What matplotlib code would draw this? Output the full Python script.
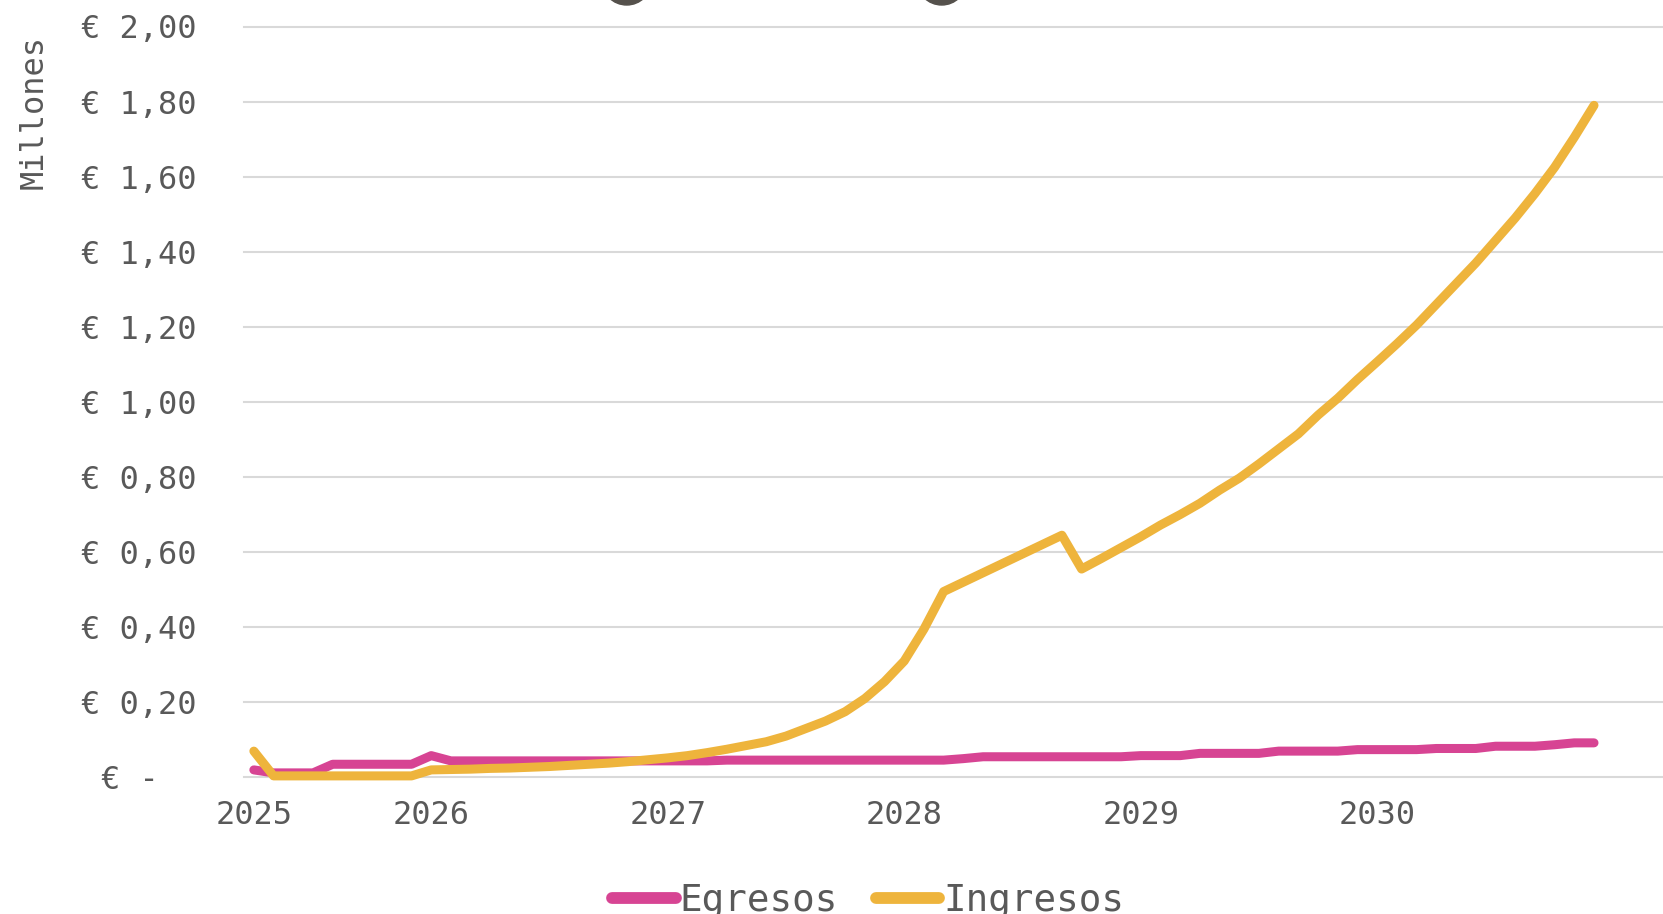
import numpy as np
import pandas as pd
import matplotlib
matplotlib.use("Agg")
import matplotlib.pyplot as plt
from matplotlib.patches import Ellipse
from matplotlib.ticker import FuncFormatter

# ====== data (monthly, Apr 2025 - Dec 2030, in millions of euros) ======
months = pd.date_range("2025-04-01", periods=69, freq="MS")

egresos = [0.02, 0.012, 0.012, 0.012,
           0.035, 0.035, 0.035, 0.035, 0.035,
           0.058,
           0.044, 0.044, 0.044, 0.044, 0.044, 0.044, 0.044,
           0.044, 0.044, 0.044, 0.044, 0.044, 0.044, 0.044,
           0.046, 0.046, 0.046, 0.046, 0.046, 0.046,
           0.046, 0.046, 0.046, 0.046, 0.046, 0.046,
           0.05,
           0.055, 0.055, 0.055, 0.055, 0.055, 0.055, 0.055, 0.055,
           0.058, 0.058, 0.058,
           0.064, 0.064, 0.064, 0.064,
           0.07, 0.07, 0.07, 0.07,
           0.074, 0.074, 0.074, 0.074,
           0.077, 0.077, 0.077,
           0.083, 0.083, 0.083,
           0.087, 0.092, 0.092]

ingresos = [0.07, 0.004, 0.004, 0.004, 0.004, 0.004, 0.004, 0.004, 0.004,
            0.02, 0.021, 0.022, 0.024, 0.025, 0.027, 0.029, 0.032, 0.035,
            0.038, 0.042, 0.047, 0.052, 0.058, 0.066, 0.075, 0.085, 0.095,
            0.11, 0.13, 0.15, 0.175, 0.21, 0.255, 0.31, 0.395, 0.495,
            0.52, 0.545, 0.57, 0.595, 0.62, 0.645, 0.555, 0.583, 0.612,
            0.641, 0.672, 0.70, 0.73, 0.765, 0.797, 0.835, 0.875, 0.915,
            0.965, 1.01, 1.06, 1.107, 1.155, 1.205, 1.26, 1.315, 1.37,
            1.43, 1.49, 1.555, 1.625, 1.705, 1.79]

series_names = ["Egresos", "Ingresos"]
colors = ["#D74493", "#EEB43C"]
y_ticks = [0.0, 0.2, 0.4, 0.6, 0.8, 1.0, 1.2, 1.4, 1.6, 1.8, 2.0]

# ====== style ======
plt.rcParams["font.family"] = ["DejaVu Sans Mono", "DejaVu Sans"]
text_color = "#595959"
grid_color = "#D9D9D9"

W, H = 1663, 914
fig = plt.figure(figsize=(W / 100, H / 100), dpi=100)
y0_px, y2_px, x0_px = 777.4, 26.5, 244
ax = fig.add_axes([x0_px / W, 1 - y0_px / H, 1 - x0_px / W, (y0_px - y2_px) / H])

x = np.arange(len(months))
for vals, name, c in zip([egresos, ingresos], series_names, colors):
    ax.plot(x, vals, color=c, lw=6.5, label=name, clip_on=False,
            solid_capstyle="round", solid_joinstyle="round", zorder=3)

ax.set_xlim(-0.5, 71.5)
ax.set_ylim(0, 2.0)

# year labels: first month and every January
tick_pos = [i for i, m in enumerate(months) if i == 0 or m.month == 1]
ax.set_xticks(tick_pos)
ax.set_xticklabels([str(months[i].year) for i in tick_pos])

ax.set_yticks(y_ticks)


def euro(v, pos):
    if abs(v) < 1e-9:
        return "€ -  "
    return ("€ %.2f" % v).replace(".", ",")


ax.yaxis.set_major_formatter(FuncFormatter(euro))
ax.tick_params(axis="both", length=0, colors=text_color, labelsize=23)
ax.tick_params(axis="y", pad=34)
ax.tick_params(axis="x", pad=16)

ax.grid(axis="y", color=grid_color, lw=1.5)
ax.grid(axis="x", visible=False)
for g in ax.get_ygridlines():
    g.set_clip_on(False)
ax.set_axisbelow(True)
for s in ax.spines.values():
    s.set_visible(False)

fig.text(34 / W, 1 - 112 / H, "Millones", rotation=90, ha="center",
         va="center", fontsize=23, color=text_color)

# cut-off markers at the top edge
for cx in [626.7, 941.7]:
    e = Ellipse((cx / W, 1 + 20 / H), 50 / W, 50 / H, transform=fig.transFigure,
                color="#55514C", clip_on=False)
    fig.patches.append(e)

leg = fig.legend(loc="center", bbox_to_anchor=(0.522, 0.014), ncol=2,
                 frameon=False, fontsize=27, handlelength=1.7,
                 handletextpad=0.1, columnspacing=1.0, labelcolor=text_color)
for h in leg.legend_handles:
    h.set_linewidth(8.5)
    h.set_solid_capstyle("round")

fig.savefig("out.png", dpi=100, facecolor="white")
